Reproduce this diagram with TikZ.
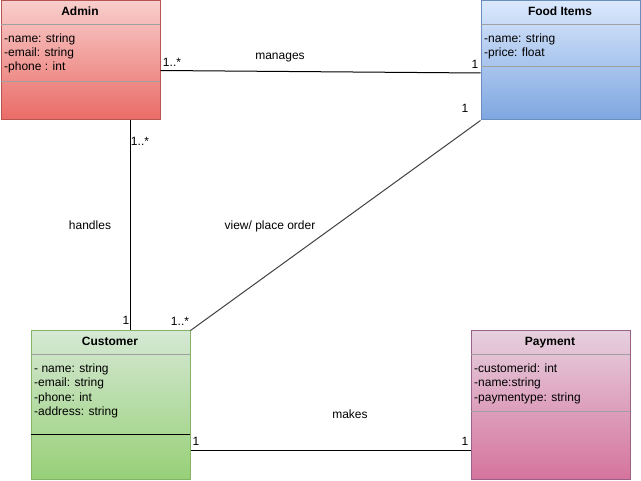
\documentclass[tikz,border=0pt]{standalone}
\usepackage{fontspec}
\setmainfont{Liberation Sans}
\definecolor{adminTop}{HTML}{F8CECC}\definecolor{adminBot}{HTML}{EA6B66}\definecolor{adminLine}{HTML}{B85450}
\definecolor{foodTop}{HTML}{DAE8FC}\definecolor{foodBot}{HTML}{7EA6E0}\definecolor{foodLine}{HTML}{6C8EBF}
\definecolor{custTop}{HTML}{D5E8D4}\definecolor{custBot}{HTML}{97D077}\definecolor{custLine}{HTML}{82B366}
\definecolor{payTop}{HTML}{E6D0DE}\definecolor{payBot}{HTML}{D5739D}\definecolor{payLine}{HTML}{996185}
\definecolor{sepGray}{HTML}{A0A0A0}
\begin{document}
\begin{tikzpicture}[x=1pt,y=-1pt,font=\fontsize{12}{14}\selectfont,
  classbox/.style={rectangle,line width=1pt,minimum width=159pt,anchor=north west,inner sep=0pt},
  sepline/.style={draw=sepGray,line width=1pt},
  txt/.style={inner sep=0pt,text height=11.4pt,text depth=2.6pt},
  title/.style={txt,font=\fontsize{12}{14}\selectfont\bfseries,anchor=center},
  attr/.style={txt,anchor=west},
  lbl/.style={txt},
  assoc/.style={draw=black,line width=1pt}]
\useasboundingbox (0,0) rectangle (641,481);
% class boxes
\node[classbox,minimum height=119pt,top color=adminTop,bottom color=adminBot,draw=adminLine] (admin) at (0.5,0.5) {};
\node[classbox,minimum height=119pt,top color=foodTop,bottom color=foodBot,draw=foodLine] (food) at (480.5,0.5) {};
\node[classbox,minimum height=149pt,top color=custTop,bottom color=custBot,draw=custLine] (cust) at (30.5,330.5) {};
\node[classbox,minimum height=149pt,top color=payTop,bottom color=payBot,draw=payLine] (pay) at (470.5,330.5) {};
% separators
\draw[sepline] (1,24.5) -- (160,24.5);
\draw[sepline] (1,81.5) -- (160,81.5);
\draw[sepline] (481,24.5) -- (640,24.5);
\draw[sepline] (481,66.5) -- (640,66.5);
\draw[sepline] (31,354.5) -- (190,354.5);
\draw[draw=black,line width=1pt] (31,434.5) -- (190,434.5);
\draw[sepline] (471,354.5) -- (630,354.5);
\draw[sepline] (471,411.5) -- (630,411.5);
% titles
\node[title] (adminT) at (80,11.5) {Admin};
\node[title] (foodT) at (560,11.5) {Food Items};
\node[title] (custT) at (110,341.5) {Customer};
\node[title] (payT) at (550,341.5) {Payment};
% attributes
\node[attr] (a1) at (4,38.5) {-name: string};
\node[attr] (a2) at (4,52.5) {-email: string};
\node[attr] (a3) at (4,66.5) {-phone : int};
\node[attr] (f1) at (484,38.5) {-name: string};
\node[attr] (f2) at (484,52.5) {-price: float};
\node[attr] (c1) at (34,368.5) {- name: string};
\node[attr] (c2) at (34,382.5) {-email: string};
\node[attr] (c3) at (34,397) {-phone: int};
\node[attr] (c4) at (34,411.5) {-address: string};
\node[attr] (p1) at (474,368.5) {-customerid: int};
\node[attr] (p2) at (474,382.5) {-name:string};
\node[attr] (p3) at (474,397) {-paymentype: string};
% connectors
\draw[assoc] ([yshift=-10pt]admin.east) -- ([yshift=-12.5pt]food.west);
\draw[assoc] ([xshift=-30pt]admin.south east) -- ([xshift=-30pt]admin.south east |- cust.north);
\draw[assoc,draw=black!75] (food.south west) -- (cust.north east);
\draw[assoc] ([yshift=-45pt]cust.east) -- ([yshift=-45pt]pay.west);
% labels
\node[lbl] (l1) at (172,62) {1..*};
\node[lbl] (l2) at (475,64) {1};
\node[lbl] (l3) at (280,55) {manages};
\node[lbl] (l4) at (140,141) {1..*};
\node[lbl] (l5) at (126,320) {1};
\node[lbl] (l6) at (90,225) {handles};
\node[lbl] (l7) at (465,108) {1};
\node[lbl] (l8) at (180,321) {1..*};
\node[lbl] (l9) at (270,225) {view/ place order};
\node[lbl] (l10) at (196,441) {1};
\node[lbl] (l11) at (465,441) {1};
\node[lbl] (l12) at (350,414.5) {makes};
\end{tikzpicture}
\end{document}
